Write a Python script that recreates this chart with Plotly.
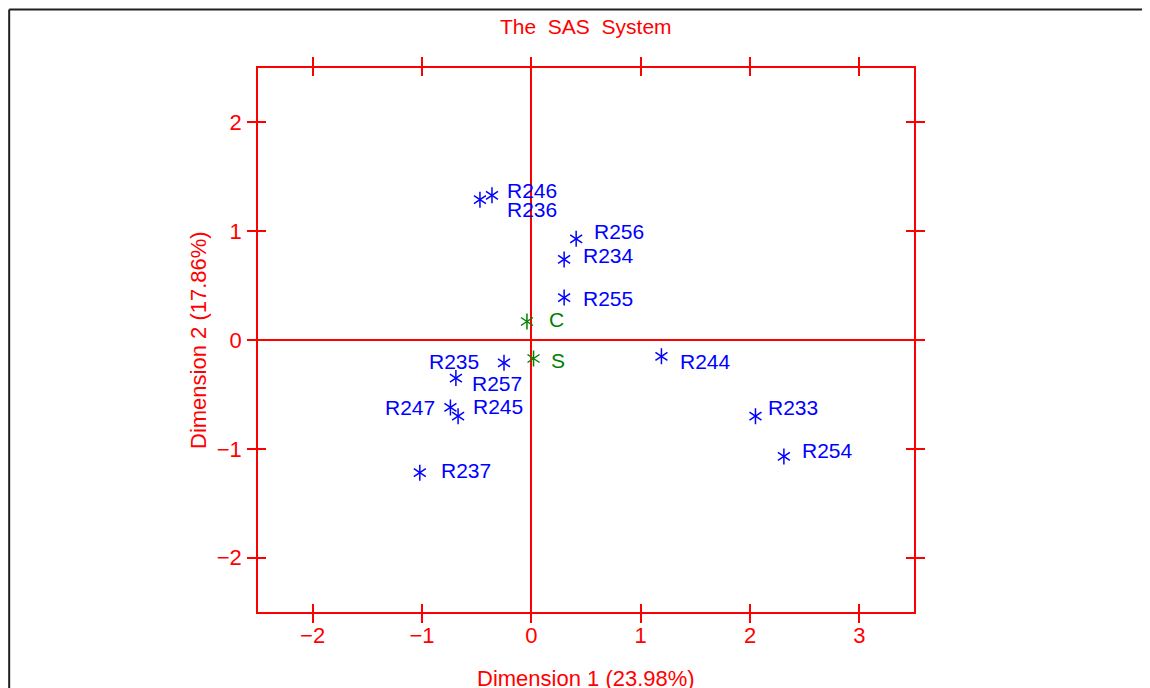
import plotly.graph_objects as go

# ---- data ----
row_names = ["R246", "R236", "R256", "R234", "R255", "R235", "R257",
             "R247", "R245", "R237", "R244", "R233", "R254"]
row_dim1 = [-0.36, -0.47, 0.41, 0.30, 0.30, -0.25, -0.69,
            -0.74, -0.67, -1.02, 1.19, 2.05, 2.31]
row_dim2 = [1.33, 1.29, 0.93, 0.74, 0.39, -0.21, -0.35,
            -0.62, -0.70, -1.22, -0.15, -0.70, -1.07]

col_names = ["C", "S"]
col_dim1 = [-0.04, 0.02]
col_dim2 = [0.17, -0.17]

x_ticks = [-2, -1, 0, 1, 2, 3]
y_ticks = [-2, -1, 0, 1, 2]
x_range = [-2.5, 3.5]
y_range = [-2.5, 2.5]

title_text = "The\u00a0 SAS\u00a0 System"
x_title = "Dimension 1 (23.98%)"
y_title = "Dimension 2 (17.86%)"

# ---- label placement (pixel offsets from each star) ----
row_anchor = ["left", "left", "left", "left", "left", "right", "left",
              "right", "left", "left", "left", "left", "left"]
row_xshift = [13, 25, 16, 17, 17, -23, 14, -13, 13, 19, 17, 11, 16]
row_yshift = [5, -10, 7, 4, -1, 1, -5, 0, 10, 2, -5, 9, 6]
col_anchor = ["left", "left"]
col_xshift = [20, 15]
col_yshift = [2, -2]

RED = "#FF0000"
BLUE = "#0000FF"
GREEN = "#008000"
FONT = "Liberation Sans, Arial, sans-serif"
FS = 21

fig = go.Figure()


def add_stars(xs, ys, color):
    for sym in ("y-up-open", "y-down-open"):
        fig.add_trace(go.Scatter(
            x=xs, y=ys, mode="markers",
            marker=dict(symbol=sym, size=10, color=color,
                        line=dict(color=color, width=1.5)),
            hoverinfo="skip", showlegend=False))


add_stars(row_dim1, row_dim2, BLUE)
add_stars(col_dim1, col_dim2, GREEN)

# invisible trace for the overlay axes (inside ticks)
fig.add_trace(go.Scatter(x=[x_range[0]], y=[y_range[0]], xaxis="x2", yaxis="y2",
                         mode="markers", marker=dict(opacity=0),
                         hoverinfo="skip", showlegend=False))

annotations = []
for n, x, y, a, dx, dy in zip(row_names, row_dim1, row_dim2, row_anchor, row_xshift, row_yshift):
    annotations.append(dict(x=x, y=y, xref="x", yref="y", text=n, showarrow=False,
                            xanchor=a, yanchor="middle", xshift=dx, yshift=dy,
                            font=dict(family=FONT, size=FS, color=BLUE)))
for n, x, y, a, dx, dy in zip(col_names, col_dim1, col_dim2, col_anchor, col_xshift, col_yshift):
    annotations.append(dict(x=x, y=y, xref="x", yref="y", text=n, showarrow=False,
                            xanchor=a, yanchor="middle", xshift=dx, yshift=dy,
                            font=dict(family=FONT, size=FS, color=GREEN)))

# titles
annotations.append(dict(x=0.5, y=1, xref="paper", yref="paper", text=title_text,
                        showarrow=False, xanchor="center", yanchor="middle", yshift=42,
                        font=dict(family=FONT, size=FS, color=RED)))
annotations.append(dict(x=0.5, y=0, xref="paper", yref="paper", text=x_title,
                        showarrow=False, xanchor="center", yanchor="middle", yshift=-66,
                        font=dict(family=FONT, size=FS + 1, color=RED)))
annotations.append(dict(x=0, y=0.5, xref="paper", yref="paper", text=y_title,
                        showarrow=False, xanchor="center", yanchor="middle", xshift=-60,
                        textangle=-90,
                        font=dict(family=FONT, size=FS + 1, color=RED)))

axis_common = dict(showgrid=False, linecolor=RED, linewidth=1.5, tickcolor=RED,
                   tickwidth=1.5, tickfont=dict(family=FONT, size=FS + 1, color=RED),
                   zerolinecolor=RED, zerolinewidth=1.5)

# the page places the figure 8px in from the top-left corner; margins compensate
fig.update_layout(
    width=1150, height=688,
    margin=dict(l=249.5, r=244, t=60, b=84),
    paper_bgcolor="white", plot_bgcolor="white",
    showlegend=False,
    annotations=annotations,
    xaxis=dict(range=x_range, tickvals=x_ticks, ticks="outside", ticklen=9,
               showline=True, mirror="ticks", zeroline=True, ticklabelstandoff=-6,
               **axis_common),
    yaxis=dict(range=y_range, tickvals=y_ticks, ticks="outside", ticklen=9,
               showline=True, mirror="ticks", zeroline=True, ticklabelstandoff=1,
               **axis_common),
    xaxis2=dict(range=x_range, tickvals=x_ticks, ticks="inside", ticklen=8,
                overlaying="x", anchor="y2", side="bottom", showline=False,
                mirror="ticks", zeroline=False, showticklabels=False,
                **axis_common),
    yaxis2=dict(range=y_range, tickvals=y_ticks, ticks="inside", ticklen=8,
                overlaying="y", anchor="x2", side="left", showline=False,
                mirror="ticks", zeroline=False, showticklabels=False,
                **axis_common),
    shapes=[
        dict(type="line", xref="paper", yref="paper", x0=-0.3793, x1=-0.3793,
             y0=-0.3, y1=1.1075, line=dict(color="#202020", width=2)),
        dict(type="line", xref="paper", yref="paper", x0=-0.3793, x1=1.5,
             y0=1.1075, y1=1.1075, line=dict(color="#202020", width=2)),
    ],
)

fig.write_html("out.html")
